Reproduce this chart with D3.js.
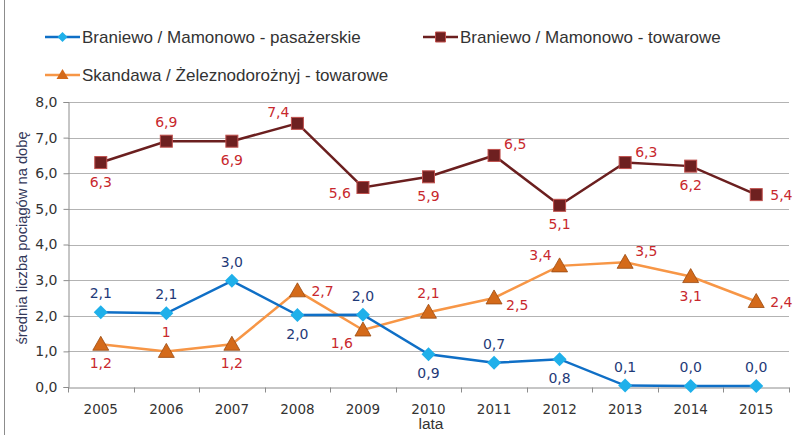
<!DOCTYPE html>
<html>
<head>
<meta charset="utf-8">
<script src="https://cdn.jsdelivr.net/npm/d3@7"></script>
<style>
  body { margin: 0; background: #fff; overflow: hidden; }
  svg { display: block; }
</style>
</head>
<body>
<div id="chart"></div>
<script>
// data
const years = ["2005", "2006", "2007", "2008", "2009", "2010", "2011", "2012", "2013", "2014", "2015"];
const pasazerskie = [2.1, 2.07, 2.98, 2.02, 2.03, 0.92, 0.68, 0.78, 0.04, 0.03, 0.03];
const pasazerskieLabels = ["2,1", "2,1", "3,0", "2,0", "2,0", "0,9", "0,7", "0,8", "0,1", "0,0", "0,0"];
const towaroweBM = [6.3, 6.9, 6.9, 7.4, 5.6, 5.9, 6.5, 5.1, 6.3, 6.2, 5.4];
const towaroweBMLabels = ["6,3", "6,9", "6,9", "7,4", "5,6", "5,9", "6,5", "5,1", "6,3", "6,2", "5,4"];
const towaroweSZ = [1.2, 1.0, 1.2, 2.7, 1.6, 2.1, 2.5, 3.4, 3.5, 3.1, 2.4];
const towaroweSZLabels = ["1,2", "1", "1,2", "2,7", "1,6", "2,1", "2,5", "3,4", "3,5", "3,1", "2,4"];
const yTicks = [0, 1, 2, 3, 4, 5, 6, 7, 8];

// where each data label sits relative to its point
const placeBM = ["b", "a", "b", "al", "l", "b", "ar", "b", "ar", "b", "r"];
const placeSZ = ["b", "a", "b", "r", "bl", "a", "br", "al", "ar", "b", "r"];
const placePas = ["a", "a", "a", "b", "a", "b", "a", "b", "a", "a", "a"];

const width = 796, height = 435;
const margin = { top: 102, right: 7, bottom: 48, left: 68 };
const innerWidth = width - margin.left - margin.right;
const innerHeight = height - margin.top - margin.bottom;

const svg = d3.select("#chart").append("svg")
    .attr("width", width)
    .attr("height", height);

// frame line on the left
svg.append("line")
    .attr("x1", 4.5).attr("x2", 4.5)
    .attr("y1", 0).attr("y2", height)
    .attr("stroke", "#8c8c8c");

const g = svg.append("g")
    .attr("transform", `translate(${margin.left},${margin.top})`);

const xScale = d3.scaleBand().domain(years).range([0, innerWidth]);
const yScale = d3.scaleLinear().domain([0, 8]).range([innerHeight, 0]);
const cx = d => xScale(d) + xScale.bandwidth() / 2;

// gridlines
g.append("g").selectAll("line")
    .data(yTicks.slice(1))
    .join("line")
    .attr("x1", 0).attr("x2", innerWidth)
    .attr("y1", d => Math.round(yScale(d)) + 0.5)
    .attr("y2", d => Math.round(yScale(d)) + 0.5)
    .attr("stroke", "#b3b3b3");

// y axis
const yAxis = g.append("g")
    .attr("transform", "translate(0.5,0)")
    .call(d3.axisLeft(yScale).tickValues(yTicks).tickSize(5).tickPadding(6)
        .tickFormat(d => d3.format(".1f")(d).replace(".", ",")));
yAxis.select(".domain").attr("stroke", "#8c8c8c");
yAxis.selectAll(".tick line").attr("stroke", "#8c8c8c");
yAxis.selectAll("text")
    .attr("font-family", "DejaVu Sans")
    .attr("font-size", 14)
    .attr("fill", "#333");

// x axis, ticks sit between categories
const xAxis = g.append("g")
    .attr("transform", `translate(0,${Math.round(innerHeight) + 0.5})`)
    .call(d3.axisBottom(xScale).tickSize(0).tickPadding(17));
xAxis.select(".domain").attr("stroke", "#8c8c8c");
xAxis.selectAll("text")
    .attr("font-family", "DejaVu Sans")
    .attr("font-size", 13.5)
    .attr("fill", "#333");
xAxis.append("g").selectAll("line")
    .data(years.concat(["end"]))
    .join("line")
    .attr("x1", (d, i) => Math.round(i * xScale.step()) + 0.5)
    .attr("x2", (d, i) => Math.round(i * xScale.step()) + 0.5)
    .attr("y1", 0).attr("y2", 5)
    .attr("stroke", "#8c8c8c");

// axis titles
svg.append("text")
    .attr("x", 431).attr("y", 429)
    .attr("text-anchor", "middle")
    .attr("font-family", "Liberation Sans")
    .attr("font-size", 15.5)
    .attr("fill", "#333")
    .text("lata");
svg.append("text")
    .attr("transform", "translate(27,238) rotate(-90)")
    .attr("text-anchor", "middle")
    .attr("font-family", "Liberation Sans")
    .attr("font-size", 14.7)
    .attr("fill", "#33385a")
    .text("średnia liczba pociągów na dobę");

const line = d3.line()
    .x((d, i) => cx(years[i]))
    .y(d => yScale(d));

const offsets = {
    a: [0, -14, "middle"], b: [0, 24, "middle"], l: [-12, 10, "end"], r: [14, 5, "start"],
    al: [-8, -6, "end"], ar: [10, -6, "start"], bl: [-10, 18, "end"], br: [12, 12, "start"]
};

function drawLabels(values, labels, places, color) {
    g.append("g").selectAll("text")
        .data(values)
        .join("text")
        .attr("x", (d, i) => cx(years[i]) + offsets[places[i]][0])
        .attr("y", (d, i) => yScale(d) + offsets[places[i]][1])
        .attr("text-anchor", (d, i) => offsets[places[i]][2])
        .attr("font-family", "DejaVu Sans")
        .attr("font-size", 14)
        .attr("fill", color)
        .text((d, i) => labels[i]);
}

// Braniewo / Mamonowo - towarowe
g.append("path")
    .datum(towaroweBM)
    .attr("fill", "none")
    .attr("stroke", "#6b1f1f")
    .attr("stroke-width", 2.5)
    .attr("d", line);
g.append("g").selectAll("rect")
    .data(towaroweBM)
    .join("rect")
    .attr("x", (d, i) => cx(years[i]) - 6)
    .attr("y", d => yScale(d) - 6)
    .attr("width", 12).attr("height", 12)
    .attr("fill", "#6e2020")
    .attr("stroke", "#c0504d")
    .attr("stroke-width", 1);

// Skandawa / Żeleznodorożnyj - towarowe
g.append("path")
    .datum(towaroweSZ)
    .attr("fill", "none")
    .attr("stroke", "#f79646")
    .attr("stroke-width", 2.5)
    .attr("d", line);
g.append("g").selectAll("path")
    .data(towaroweSZ)
    .join("path")
    .attr("transform", (d, i) => `translate(${cx(years[i])},${yScale(d)})`)
    .attr("d", "M0,-8L8,6L-8,6Z")
    .attr("fill", "#d46a1a")
    .attr("stroke", "#9a4a10")
    .attr("stroke-width", 0.8);

// Braniewo / Mamonowo - pasażerskie
g.append("path")
    .datum(pasazerskie)
    .attr("fill", "none")
    .attr("stroke", "#0f6fc6")
    .attr("stroke-width", 2.5)
    .attr("d", line);
g.append("g").selectAll("path")
    .data(pasazerskie)
    .join("path")
    .attr("transform", (d, i) => `translate(${cx(years[i])},${yScale(d)})`)
    .attr("d", "M0,-7L7,0L0,7L-7,0Z")
    .attr("fill", "#1fb0ea");

drawLabels(towaroweBM, towaroweBMLabels, placeBM, "#c8282d");
drawLabels(towaroweSZ, towaroweSZLabels, placeSZ, "#c8282d");
drawLabels(pasazerskie, pasazerskieLabels, placePas, "#1f3a78");

// legend
const legend = [
    { name: "Braniewo / Mamonowo - pasażerskie", x: 45, y: 37, color: "#0f6fc6", mark: "diamond" },
    { name: "Braniewo / Mamonowo - towarowe", x: 423, y: 37, color: "#6b1f1f", mark: "square" },
    { name: "Skandawa / Żeleznodorożnyj - towarowe", x: 45, y: 75, color: "#f79646", mark: "triangle" }
];
const lg = svg.append("g").selectAll("g")
    .data(legend)
    .join("g")
    .attr("transform", d => `translate(${d.x},${d.y})`);
lg.append("line")
    .attr("x1", 0).attr("x2", 35)
    .attr("stroke", d => d.color)
    .attr("stroke-width", 2.5);
lg.append("path")
    .attr("transform", "translate(17.5,0)")
    .attr("d", d => d.mark === "diamond" ? "M0,-5L5,0L0,5L-5,0Z"
        : d.mark === "square" ? "M-5,-5H5V5H-5Z" : "M0,-6L6,4L-6,4Z")
    .attr("fill", d => d.mark === "diamond" ? "#1fb0ea" : d.mark === "square" ? "#6e2020" : "#d46a1a")
    .attr("stroke", d => d.mark === "square" ? "#c0504d" : "none");
lg.append("text")
    .attr("x", 37).attr("y", 6)
    .attr("font-family", "Liberation Sans")
    .attr("font-size", 17)
    .attr("fill", "#333")
    .text(d => d.name);
</script>
</body>
</html>
